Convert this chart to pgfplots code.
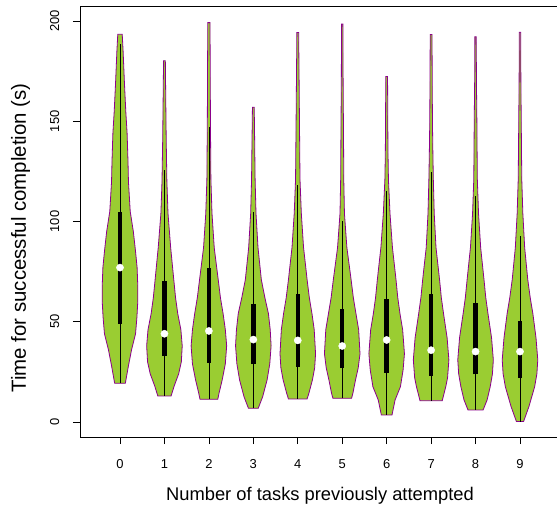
\documentclass[border=0pt]{standalone}
\usepackage{fontspec}
\setmainfont{Liberation Sans}
\usepackage{pgfplots}
\usepackage{pgfplotstable}
\pgfplotsset{compat=1.18}
\usepgfplotslibrary{fillbetween}

\definecolor{vfill}{RGB}{154,205,50}
\definecolor{vline}{RGB}{139,0,139}

% violin outlines: y, half width (axis units)
\pgfplotstableread{
y w
19.3 0.12
28 0.19
36 0.26
44 0.35
52 0.38
60 0.40
68 0.40
77 0.385
85 0.35
95 0.30
105 0.23
120 0.19
130 0.18
144 0.16
155 0.13
169 0.10
185 0.07
193.4 0.05
}\vA
\pgfplotstableread{
y w
13 0.15
18 0.22
24 0.32
30 0.38
38 0.40
46 0.37
54 0.30
62 0.25
71 0.21
87 0.14
104 0.08
120 0.055
140 0.04
160 0.03
180.2 0.02
}\vB
\pgfplotstableread{
y w
11.3 0.20
14.5 0.23
21 0.30
29 0.37
38 0.40
46 0.37
54 0.32
62 0.26
71 0.21
87 0.12
104 0.07
121 0.045
150 0.035
175 0.03
199.2 0.025
}\vC
\pgfplotstableread{
y w
6.8 0.11
12.6 0.21
21 0.31
29 0.37
38 0.40
46 0.38
54 0.34
62 0.26
71 0.18
87 0.105
104 0.06
121 0.04
140 0.03
157 0.02
}\vD
\pgfplotstableread{
y w
11.5 0.21
14.3 0.25
21 0.33
27 0.38
34 0.40
46 0.37
54 0.32
62 0.26
71 0.21
87 0.13
104 0.08
121 0.05
145 0.04
170 0.03
194.3 0.02
}\vE
\pgfplotstableread{
y w
11.8 0.21
14.3 0.24
21 0.30
27 0.36
34 0.40
46 0.37
54 0.31
62 0.25
71 0.20
87 0.105
104 0.05
121 0.035
140 0.03
170 0.02
198.5 0.015
}\vF
\pgfplotstableread{
y w
3.5 0.12
11 0.19
17.6 0.31
26 0.37
34 0.40
46 0.36
54 0.30
62 0.25
71 0.21
87 0.13
104 0.075
121 0.04
134 0.03
150 0.025
172.3 0.02
}\vG
\pgfplotstableread{
y w
10.6 0.25
17.6 0.33
22 0.37
31 0.40
42 0.36
54 0.28
62 0.23
71 0.19
87 0.11
104 0.07
121 0.05
134 0.04
150 0.03
170 0.025
193.3 0.02
}\vH
\pgfplotstableread{
y w
6 0.17
11 0.26
17.6 0.33
24 0.38
31 0.40
42 0.36
54 0.28
62 0.23
71 0.19
87 0.115
104 0.067
121 0.04
134 0.035
150 0.03
170 0.02
192.2 0.015
}\vI
\pgfplotstableread{
y w
0.2 0.08
7.6 0.20
17.6 0.33
24 0.38
31 0.40
42 0.36
54 0.29
62 0.23
71 0.175
87 0.105
104 0.064
121 0.04
145 0.03
170 0.02
194.4 0.015
}\vJ

% pos, outline, lower whisker, q1, median, q3, upper whisker
\newcommand\violin[7]{%
  \addplot[forget plot, draw=none, name path=L#1] table[x expr=#1-\thisrow{w}, y=y]{#2};
  \addplot[forget plot, draw=none, name path=R#1] table[x expr=#1+\thisrow{w}, y=y]{#2};
  \addplot[forget plot, fill=vfill, draw=vline, line width=0.8bp] fill between[of=L#1 and R#1, reverse=true];
  \addplot[forget plot, black, line width=0.75bp] coordinates {(#1,#3) (#1,#7)};
  \addplot[forget plot, black, line width=4.4bp] coordinates {(#1,#4) (#1,#6)};
  \addplot[forget plot, only marks, mark=*, mark size=3.6bp, white] coordinates {(#1,#5)};
}

\begin{document}
\begin{tikzpicture}
\begin{axis}[
  at={(0,0)}, anchor=south west,
  scale only axis, width=480bp, height=431bp,
  xmin=-0.9, xmax=9.9, ymin=-7.5, ymax=207.5,
  xtick={0,...,9}, ytick={0,50,100,150,200},
  tick align=outside, tick pos=left,
  major tick length=7bp,
  axis line style={line width=0.75bp},
  tick style={line width=0.75bp, black},
  /pgf/number format/assume math mode=true,
  yticklabel style={font=\fontsize{13}{15}\selectfont, rotate=90, anchor=base, inner sep=0pt},
  xticklabel style={font=\fontsize{13}{15}\selectfont, anchor=base, inner sep=0pt},
  xticklabel shift=24bp,
  yticklabel shift=14bp,
  xlabel={Number of tasks previously attempted},
  ylabel={Time for successful completion (s)},
  xlabel style={font=\fontsize{18.4}{21}\selectfont, at={(axis description cs:0.5,-0.1462)}, anchor=base},
  ylabel style={font=\fontsize{20.5}{23}\selectfont, at={(axis description cs:-0.1125,0.4617)}, anchor=base},
]
\violin{0}{\vA}{19.3}{48.9}{77.0}{104.7}{188.5}
\violin{1}{\vB}{13.0}{32.9}{44.0}{70.3}{125.7}
\violin{2}{\vC}{11.3}{29.6}{45.4}{76.6}{147.0}
\violin{3}{\vD}{6.8}{28.8}{41.1}{59.0}{104.6}
\violin{4}{\vE}{11.5}{27.6}{40.7}{63.8}{118.2}
\violin{5}{\vF}{11.8}{26.8}{37.9}{56.4}{100.2}
\violin{6}{\vG}{3.5}{24.6}{40.9}{61.2}{115.2}
\violin{7}{\vH}{10.6}{23.1}{35.8}{63.8}{124.8}
\violin{8}{\vI}{6.0}{23.8}{35.1}{59.5}{112.9}
\violin{9}{\vJ}{0.2}{22.1}{35.1}{50.4}{92.8}
\end{axis}
\pgfresetboundingbox
\path[use as bounding box] (-80bp,-69bp) rectangle (477bp,437bp);
\end{tikzpicture}
\end{document}
